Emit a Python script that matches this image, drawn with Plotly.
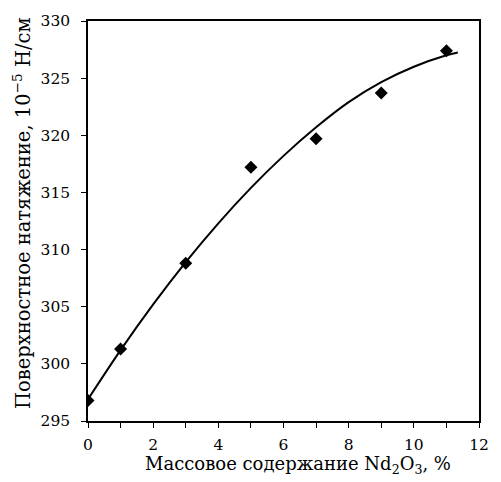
import plotly.graph_objects as go

# Measured surface tension vs Nd2O3 content
nd2o3_pct = [0, 1, 3, 5, 7, 9, 11]
surface_tension = [296.8, 301.3, 308.8, 317.2, 319.7, 323.7, 327.4]

# Smoothed trend line
trend_x = [0, 1, 2, 3, 4, 5, 6, 7, 8, 9, 10, 11, 11.35]
trend_y = [296.9, 301.2, 305.2, 308.9, 312.3, 315.4, 318.2, 320.7, 322.9, 324.65, 326.0, 327.0, 327.25]

x_title = "Массовое содержание Nd<sub>2</sub>O<sub>3</sub>, %"
y_title = "Поверхностное натяжение, 10<sup>−5</sup> Н/см"

FONT = "DejaVu Serif"

fig = go.Figure()
fig.add_trace(go.Scatter(
    x=trend_x, y=trend_y, mode="lines",
    line=dict(color="black", width=2, shape="spline", smoothing=0.9),
    hoverinfo="skip", showlegend=False,
))
fig.add_trace(go.Scatter(
    x=nd2o3_pct, y=surface_tension, mode="markers",
    marker=dict(symbol="diamond", size=10, color="black"),
    showlegend=False,
))

axis_common = dict(
    showline=True, linecolor="black", linewidth=1.5, mirror=True,
    showgrid=False, zeroline=False,
    ticks="outside", ticklen=5, tickwidth=1.2, tickcolor="black",
    tickfont=dict(family=FONT, size=15.5, color="black"),
)

fig.update_xaxes(
    range=[0, 12], dtick=2, tick0=0,
    minor=dict(dtick=1, ticks="outside", ticklen=5, tickwidth=1.2, tickcolor="black"),
    ticklabelstandoff=4,
    **axis_common,
)
fig.update_yaxes(
    range=[295, 330], dtick=5, tick0=295,
    ticklabelstandoff=8,
    **axis_common,
)

fig.add_annotation(
    text=x_title, xref="paper", yref="paper", x=0.536, y=0,
    xanchor="center", yanchor="middle", yshift=-44, showarrow=False,
    font=dict(family=FONT, size=18, color="black"),
)
fig.add_annotation(
    text=y_title, xref="paper", yref="paper", x=0, y=0.52, textangle=-90,
    xanchor="center", yanchor="middle", xshift=-66, showarrow=False,
    font=dict(family=FONT, size=19.5, color="black"),
)

fig.update_layout(
    width=501, height=482,
    margin=dict(l=88, r=12, t=19, b=61),
    paper_bgcolor="white", plot_bgcolor="white",
    font=dict(family=FONT, color="black"),
)

fig.write_html("out.html")
